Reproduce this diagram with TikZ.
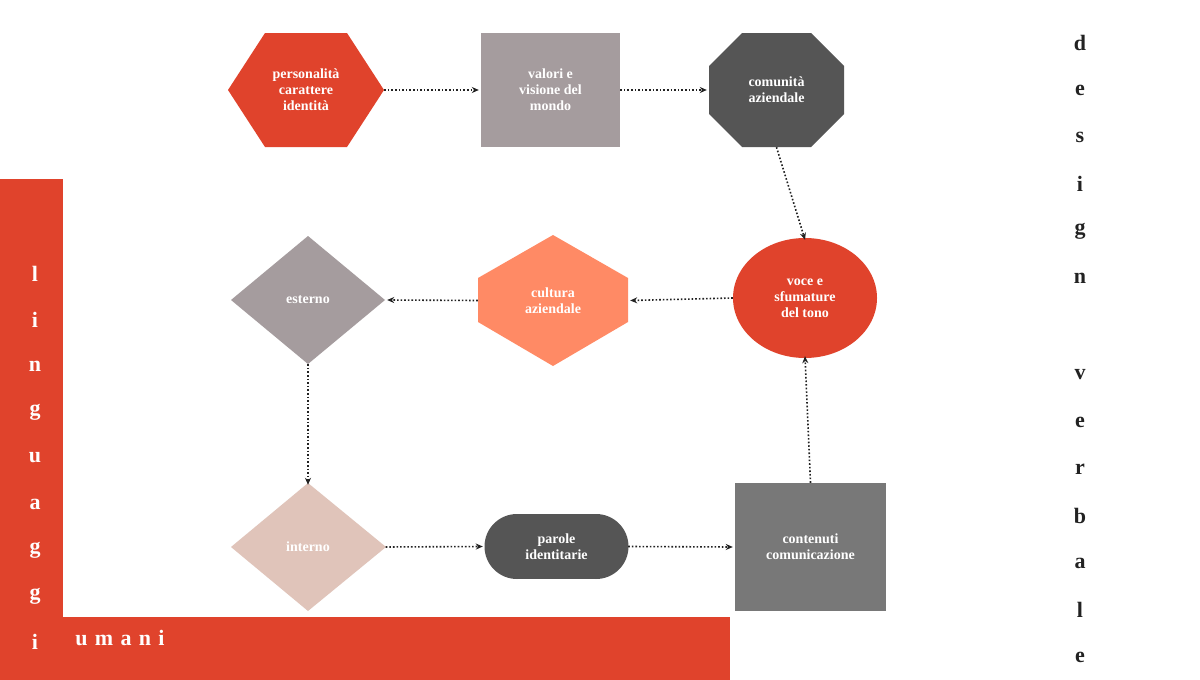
\documentclass[tikz,border=0pt]{standalone}
\usepackage{fontspec}
\setmainfont{Liberation Serif}
\usetikzlibrary{arrows.meta}
\definecolor{cred}{HTML}{E0432C}
\definecolor{cgray}{HTML}{A59C9E}
\definecolor{cdark}{HTML}{555555}
\definecolor{csal}{HTML}{FF8A65}
\definecolor{cpink}{HTML}{E0C4BA}
\definecolor{cmid}{HTML}{787878}
\definecolor{ctext}{HTML}{222222}
\tikzset{
  lbl/.style={inner sep=0pt,text=white,font=\bfseries\fontsize{14}{16}\selectfont,align=center},
  conn/.style={draw=ctext,line width=1.6pt,dotted,-{Stealth[length=7pt,width=6pt,line cap=round]}},
  vl/.style={font=\bfseries\fontsize{22}{24}\selectfont},
}
\begin{document}
\begin{tikzpicture}[x=1pt,y=-1pt]
\useasboundingbox (0,0) rectangle (1200,680);
\fill[white] (0,0) rectangle (1200,680);
% L bar
\fill[cred] (0,179) rectangle (63,680);
\fill[cred] (0,617) rectangle (730,680);
% shapes
\fill[cred] (228,90)--(265,33)--(347,33)--(384,90)--(347,147)--(265,147)--cycle;
\fill[cgray] (481,33) rectangle (620,147);
\fill[cdark] (709,66)--(742,33)--(811,33)--(844,66)--(844,114)--(811,147)--(742,147)--(709,114)--cycle;
\fill[cred] (805,298) ellipse [x radius=72,y radius=60];
\fill[csal] (553,235)--(628,278)--(628,322)--(553,366)--(478,322)--(478,278)--cycle;
\fill[cgray] (308,236)--(385,300)--(308,364)--(231,300)--cycle;
\fill[cpink] (308,483)--(386,547)--(308,611)--(231,547)--cycle;
\fill[cdark] (517,514) rectangle (596,579);
\fill[cdark] (517,546.5) circle [radius=32.5];
\fill[cdark] (596,546.5) circle [radius=32.5];
\fill[cmid] (735,483) rectangle (886,611);
% nodes
\node[lbl,minimum width=156,minimum height=114] (a) at (306,90) {personalità\\carattere\\identità};
\node[lbl,minimum width=139,minimum height=114] (b) at (550.5,90) {valori e\\visione del\\mondo};
\node[lbl,minimum width=135,minimum height=114] (c) at (776.5,90) {comunità\\aziendale};
\node[lbl,minimum width=144,minimum height=120] (d) at (805,298) {voce e\\sfumature\\del tono};
\node[lbl,minimum width=150,minimum height=131] (e) at (553,300.5) {cultura\\aziendale};
\node[lbl,minimum width=154,minimum height=128] (f) at (308,300) {esterno};
\node[lbl,minimum width=155,minimum height=128] (g) at (308,547) {interno};
\node[lbl,minimum width=143,minimum height=65] (h) at (556.5,546.5) {parole\\identitarie};
\node[lbl,minimum width=151,minimum height=128] (i) at (810.5,547) {contenuti\\comunicazione};
% connectors
\draw[conn] (a.east) -- ([xshift=-2]b.west);
\draw[conn] (b.east) -- ([xshift=-2]c.west);
\draw[conn] (c.south) -- ([yshift=-2]d.north);
\draw[conn] (d.west) -- ([xshift=2]e.east);
\draw[conn] (e.west) -- ([xshift=2]f.east);
\draw[conn] (f.south) -- ([yshift=-2]g.north);
\draw[conn] (g.east) -- ([xshift=-2]h.west);
\draw[conn] (h.east) -- ([xshift=-2]i.west);
\draw[conn] (i.north) -- ([yshift=2]d.south);
% vertical texts
\foreach \l [count=\k] in {l,i,n,g,u,a,g,g,i}
  \node[vl,text=white] (ling\k) at (35,228+46*\k) {\l};
\node[vl,text=white] (umani) at (120,638) {u\,\,m\,\,a\,\,n\,\,i};
\foreach \l [count=\k] in {d,e,s,i,g,n}
  \node[vl,text=ctext] (des\k) at (1080,-4+47*\k) {\l};
\foreach \l [count=\k] in {v,e,r,b,a,l,e}
  \node[vl,text=ctext] (ver\k) at (1080,328+47*\k) {\l};
\end{tikzpicture}
\end{document}
